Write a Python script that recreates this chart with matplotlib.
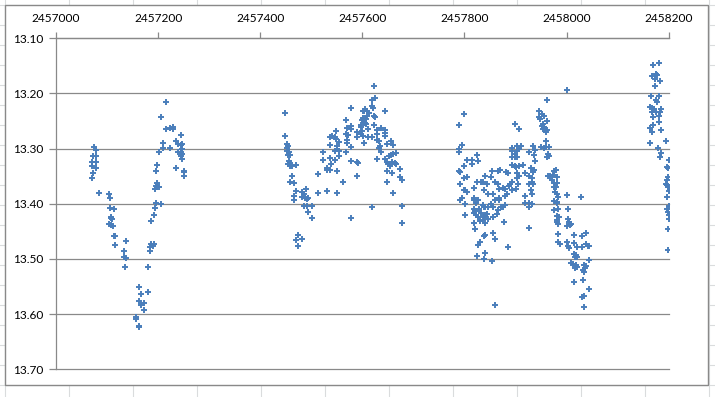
import numpy as np
import matplotlib.pyplot as plt
from matplotlib.lines import Line2D
from matplotlib.patches import Rectangle

# Julian dates are stored as offsets from JD0
JD0 = 2457000

# season 1 (2015)
s1_day = [75, 78, 73, 78, 71, 78, 71, 78, 73, 71,
          85, 104, 106, 106, 114, 108, 110, 108, 104, 112, 108,
          114, 116, 116, 138, 134, 134, 138, 136,
          163, 167, 181, 163, 173, 167, 173, 157, 157, 163, 163,
          181, 185, 185, 187, 191, 189, 187, 191, 206, 193, 195,
          193, 197, 202, 195, 197, 195, 197, 202, 210, 210, 224,
          206, 216, 216, 224, 230, 230, 244,
          236, 238, 247, 244, 246, 238, 244, 247, 244, 247, 236,
          251, 251, 251]
s1_mag = [13.297, 13.302, 13.314, 13.314, 13.324, 13.324, 13.332, 13.336, 13.345, 13.354,
          13.380, 13.383, 13.390, 13.407, 13.409, 13.424, 13.428, 13.426, 13.437, 13.440, 13.439,
          13.459, 13.459, 13.474, 13.468, 13.486, 13.497, 13.499, 13.515,
          13.550, 13.564, 13.559, 13.577, 13.579, 13.583, 13.593, 13.606, 13.608, 13.621, 13.624,
          13.514, 13.486, 13.479, 13.472, 13.472, 13.476, 13.432, 13.421, 13.401, 13.407, 13.398,
          13.374, 13.370, 13.370, 13.367, 13.363, 13.341, 13.330, 13.307, 13.298, 13.289, 13.298,
          13.243, 13.215, 13.265, 13.263, 13.260, 13.265, 13.276,
          13.287, 13.291, 13.291, 13.294, 13.300, 13.307, 13.307, 13.309, 13.314, 13.318, 13.336,
          13.340, 13.343, 13.349]

# season 2 (2016)
s2_day = [449, 449, 453, 455, 453, 453, 457, 455, 459, 457, 459, 455, 463, 459, 471,
          463, 459, 467, 471, 467, 467, 481, 481, 485, 490, 488, 492, 494, 486, 492, 502, 494, 502,
          473, 471, 481, 473, 514, 514,
          522, 522, 530, 530, 537, 537, 539, 551, 547, 551, 530, 537, 537, 541, 547, 549, 549,
          555, 551, 551, 555, 555, 547, 563,
          567, 569, 567, 569, 569, 567, 571, 577, 577, 577, 577, 577, 577,
          590, 590, 590, 592, 590, 598, 598, 600, 602, 604, 598, 600, 602, 604, 606, 608,
          604, 606, 610, 602, 608, 612, 612, 618, 610, 614,
          618, 620, 618, 622, 624, 618, 622, 624, 622, 628,
          629, 629, 629, 633, 635, 637, 633, 637, 645, 645, 645, 645, 649,
          645, 649, 649, 651, 653, 655, 657, 657, 661, 659, 661, 663, 665, 665,
          649, 659, 661, 673, 673, 677, 677, 677]
s2_mag = [13.236, 13.277, 13.292, 13.295, 13.299, 13.305, 13.306, 13.312, 13.312, 13.323, 13.326, 13.328, 13.332, 13.332, 13.330,
          13.350, 13.360, 13.362, 13.377, 13.386, 13.393, 13.378, 13.388, 13.382, 13.373, 13.389, 13.391, 13.389, 13.404, 13.404, 13.404, 13.414, 13.425,
          13.456, 13.465, 13.463, 13.476, 13.346, 13.380,
          13.306, 13.321, 13.335, 13.339, 13.317, 13.339, 13.328, 13.341, 13.321, 13.380, 13.377, 13.294, 13.279, 13.277, 13.279, 13.268, 13.283,
          13.288, 13.295, 13.301, 13.305, 13.314, 13.305, 13.360,
          13.249, 13.263, 13.274, 13.285, 13.290, 13.306, 13.276, 13.227, 13.259, 13.265, 13.297, 13.323, 13.425,
          13.270, 13.279, 13.324, 13.326, 13.350, 13.261, 13.274, 13.268, 13.277, 13.290, 13.258, 13.249, 13.245, 13.250, 13.254, 13.247,
          13.231, 13.229, 13.231, 13.231, 13.256, 13.265, 13.279, 13.279, 13.240, 13.236,
          13.222, 13.227, 13.405, 13.186, 13.209, 13.211, 13.241, 13.243, 13.258, 13.267,
          13.274, 13.285, 13.319, 13.286, 13.295, 13.306, 13.299, 13.263, 13.232, 13.267, 13.272, 13.277, 13.292,
          13.319, 13.324, 13.341, 13.328, 13.314, 13.332, 13.286, 13.312, 13.294, 13.324, 13.310, 13.326, 13.308, 13.328,
          13.360, 13.344, 13.380, 13.337, 13.351, 13.357, 13.404, 13.434]

# season 3 (2017)
s3_day = [800, 789, 898, 906, 796, 790, 790, 804, 814, 826, 824, 814, 800,
          789, 791, 804, 800, 792, 800, 804, 802, 796,
          818, 824, 832, 836, 841, 851, 853, 865, 869, 881, 885, 859, 845, 838, 847, 855,
          865, 867, 875, 879, 883, 890, 888, 818, 879, 867,
          894, 902, 910, 894, 898, 902, 906, 894, 898, 902, 894, 898, 900, 906, 902, 906, 902,
          894, 904, 900, 894, 914, 918, 926, 934, 937, 930, 934, 926, 926, 934, 930, 932, 918,
          792, 802, 818, 822, 826, 818, 820, 828, 822, 826, 832, 818, 802, 830, 836, 840, 838,
          841, 845, 847, 855, 838, 836, 841, 847, 851, 855, 859, 867, 865, 863, 871, 875, 879,
          877, 918, 926, 926, 932, 926, 818, 820, 840, 838, 855, 859, 830, 826, 885, 824, 840,
          838, 853, 859,
          1000, 961, 945, 951, 955, 945, 947, 961, 953, 951, 955, 953, 961, 957, 959, 959,
          949, 955, 965, 959, 939, 963, 965, 961, 939, 937, 932, 932,
          963, 967, 973, 975, 979, 982, 971, 975, 981, 975, 979, 977, 981, 984, 975, 981, 1000, 1028,
          982, 975, 984, 1002, 981, 986, 982, 981, 984, 1002, 1004, 1008, 1000, 1006,
          984, 1014, 1030, 1039, 984, 988, 1000, 1002, 1004, 1014, 1020, 1030, 1039, 1041, 1043,
          1014, 1018, 1016, 1020, 1008, 1012, 1018, 1016, 1020, 1035, 1039, 1037, 1033, 1035, 1043,
          1014, 1033, 1043, 1030, 1035, 1035]
s3_mag = [13.238, 13.258, 13.255, 13.265, 13.293, 13.300, 13.307, 13.320, 13.320, 13.322, 13.311, 13.327, 13.331,
          13.340, 13.342, 13.351, 13.353, 13.365, 13.375, 13.378, 13.375, 13.389,
          13.371, 13.360, 13.360, 13.360, 13.349, 13.351, 13.340, 13.340, 13.338, 13.342, 13.344, 13.360, 13.365, 13.375, 13.382, 13.382,
          13.364, 13.373, 13.371, 13.373, 13.382, 13.364, 13.367, 13.389, 13.385, 13.389,
          13.298, 13.296, 13.296, 13.305, 13.309, 13.305, 13.300, 13.315, 13.316, 13.316, 13.329, 13.331, 13.333, 13.331, 13.345, 13.349, 13.353,
          13.360, 13.364, 13.373, 13.375, 13.329, 13.345, 13.307, 13.296, 13.311, 13.335, 13.342, 13.349, 13.364, 13.365, 13.375, 13.382, 13.385,
          13.394, 13.400, 13.394, 13.398, 13.394, 13.410, 13.413, 13.410, 13.420, 13.424, 13.417, 13.417, 13.420, 13.431, 13.429, 13.435, 13.424,
          13.420, 13.419, 13.428, 13.424, 13.406, 13.402, 13.406, 13.405, 13.401, 13.405, 13.394, 13.394, 13.412, 13.419, 13.405, 13.406, 13.402,
          13.433, 13.399, 13.399, 13.405, 13.401, 13.444, 13.435, 13.446, 13.457, 13.458, 13.453, 13.464, 13.469, 13.475, 13.478, 13.495, 13.490,
          13.500, 13.504, 13.583,
          13.193, 13.211, 13.231, 13.238, 13.240, 13.243, 13.247, 13.250, 13.256, 13.259, 13.261, 13.265, 13.267, 13.265, 13.270, 13.286,
          13.297, 13.299, 13.297, 13.297, 13.303, 13.310, 13.314, 13.316, 13.323, 13.339, 13.353, 13.360,
          13.350, 13.350, 13.348, 13.341, 13.339, 13.351, 13.357, 13.362, 13.362, 13.369, 13.369, 13.378, 13.382, 13.387, 13.395, 13.396, 13.384, 13.387,
          13.399, 13.412, 13.410, 13.410, 13.422, 13.424, 13.429, 13.433, 13.436, 13.428, 13.433, 13.436, 13.441, 13.439,
          13.455, 13.456, 13.458, 13.453, 13.469, 13.473, 13.469, 13.476, 13.480, 13.471, 13.478, 13.478, 13.473, 13.476, 13.476,
          13.491, 13.493, 13.496, 13.496, 13.507, 13.509, 13.511, 13.516, 13.515, 13.511, 13.513, 13.516, 13.520, 13.524, 13.502,
          13.542, 13.538, 13.555, 13.569, 13.567, 13.587]

# season 4 (2018)
s4_day = [1169, 1181, 1175, 1177, 1167, 1173, 1183, 1173, 1165, 1181, 1175, 1177,
          1163, 1167, 1171, 1167, 1175, 1185, 1183, 1181, 1169, 1181, 1169, 1163, 1167, 1185,
          1163, 1194, 1179, 1185, 1183, 1200, 1196, 1198, 1198, 1196, 1194, 1196, 1198, 1200,
          1196, 1200, 1196, 1198, 1200, 1200, 1198, 1198]
s4_mag = [13.148, 13.144, 13.164, 13.166, 13.169, 13.173, 13.177, 13.186, 13.204, 13.204, 13.211, 13.216,
          13.225, 13.227, 13.229, 13.233, 13.233, 13.229, 13.234, 13.240, 13.242, 13.251, 13.258, 13.263, 13.269, 13.267,
          13.289, 13.287, 13.298, 13.308, 13.316, 13.321, 13.334, 13.336, 13.352, 13.357, 13.364, 13.366, 13.370, 13.377,
          13.387, 13.404, 13.410, 13.415, 13.421, 13.428, 13.446, 13.484]

x_ticks = [2457000, 2457200, 2457400, 2457600, 2457800, 2458000, 2458200]
y_ticks = [13.10, 13.20, 13.30, 13.40, 13.50, 13.60, 13.70]

jd = JD0 + np.array(s1_day + s2_day + s3_day + s4_day, dtype=float)
mag = np.array(s1_mag + s2_mag + s3_mag + s4_mag)

W, H = 715, 397
fig = plt.figure(figsize=(W / 100, H / 100), dpi=100)
fig.patch.set_facecolor('white')

# spreadsheet cell grid behind the chart
for px in range(5, W + 1, 64):
    fig.add_artist(Line2D([px / W, px / W], [0, 1], color='#dadcdd', lw=0.8, zorder=0))
for py in range(5, H + 1, 20):
    fig.add_artist(Line2D([0, 1], [1 - py / H, 1 - py / H], color='#dadcdd', lw=0.8, zorder=0))
# chart area
fig.add_artist(Rectangle((5 / W, 1 - 385 / H), 702.5 / W, 380 / H, facecolor='white',
                         edgecolor='#898989', lw=1.0, zorder=1))

ax = fig.add_axes([56 / W, 1 - 369.3 / H, 612.7 / W, 331 / H], zorder=2)
ax.patch.set_alpha(0)

ax.plot(jd, mag, ls='none', marker='+', color='#4a7ebb', ms=4, mew=1.4, zorder=3)

ax.set_xlim(x_ticks[0], x_ticks[-1])
ax.set_ylim(y_ticks[-1], y_ticks[0])
ax.set_xticks(x_ticks)
ax.set_yticks(y_ticks)
ax.set_xticklabels([str(t) for t in x_ticks])
ax.set_yticklabels([f'{t:.2f}' for t in y_ticks])

ax.xaxis.tick_top()
ax.tick_params(axis='x', direction='out', length=4, width=0.9, color='#898989',
               pad=6, labelsize=8.6, labelcolor='black')
ax.tick_params(axis='y', direction='out', length=5, width=0.9, color='#898989',
               pad=4.3, labelsize=8.6, labelcolor='black')
for lab in ax.get_xticklabels() + ax.get_yticklabels():
    lab.set_family(['Lato', 'DejaVu Sans'])

ax.grid(axis='y', color='#898989', lw=0.9)
ax.set_axisbelow(True)
for gl in ax.get_ygridlines():
    gl.set_clip_on(False)
for side in ['right', 'bottom']:
    ax.spines[side].set_visible(False)
for side in ['left', 'top']:
    ax.spines[side].set_color('#898989')
    ax.spines[side].set_linewidth(0.9)

fig.savefig('out.png', dpi=100)
